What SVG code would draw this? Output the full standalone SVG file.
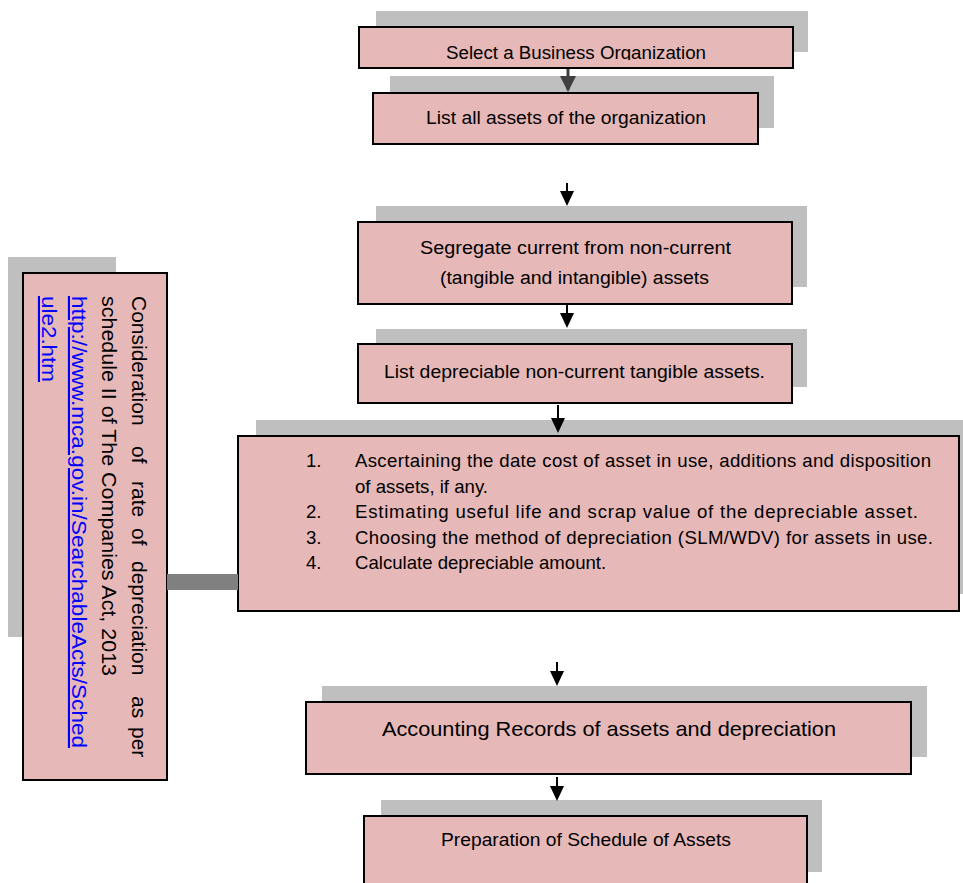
<svg xmlns="http://www.w3.org/2000/svg" width="963" height="883" viewBox="0 0 963 883">
<style>
  .shadow { fill: #bfbfbf; }
  .box { fill: #e6b8b7; stroke: #000; stroke-width: 2; }
  .t { font-family: "Liberation Sans", Arial, sans-serif; fill: #000; }
  .c { text-anchor: middle; }
  .li { font-size: 18.6px; }
  .conn { stroke: #000; stroke-width: 2; fill: none; marker-end: url(#ah); }
  .link { fill: #0000ff; text-decoration: underline; }
</style>
<defs>
  <marker id="ah" markerUnits="userSpaceOnUse" markerWidth="15" markerHeight="14" refX="13" refY="7" orient="auto">
    <path d="M0,0 L15,7 L0,14 z" fill="#000"/>
  </marker>
  <marker id="ahg" markerUnits="userSpaceOnUse" markerWidth="16" markerHeight="16" refX="14" refY="8" orient="auto">
    <path d="M0,0 L16,8 L0,16 z" fill="#404040"/>
  </marker>
  <clipPath id="clip1"><rect x="359" y="27" width="434" height="33"/></clipPath>
</defs>

<g id="consideration">
  <rect class="shadow" x="8" y="257" width="108" height="380"/>
  <rect class="box" x="23" y="273" width="144" height="507"/>
  <text class="t" font-size="21" transform="translate(132,296) rotate(90)">
    <tspan x="0" y="0">Consideration</tspan><tspan x="150" y="0">of</tspan><tspan x="185" y="0">rate</tspan><tspan x="232" y="0">of</tspan><tspan x="265" y="0">depreciation</tspan><tspan x="400" y="0">as</tspan><tspan x="431" y="0">per</tspan>
  </text>
  <text class="t" font-size="21" transform="translate(102,296) rotate(90)" textLength="380" lengthAdjust="spacingAndGlyphs">schedule II of The Companies Act, 2013</text>
  <text class="t link" font-size="21" transform="translate(72,296) rotate(90)" textLength="452" lengthAdjust="spacingAndGlyphs">http://www.mca.gov.in/SearchableActs/Sched</text>
  <text class="t link" font-size="21" transform="translate(42,296) rotate(90)" textLength="86" lengthAdjust="spacingAndGlyphs">ule2.htm</text>
</g>

<g id="select-org">
  <rect class="shadow" x="376" y="11" width="432" height="41"/>
  <rect class="box" x="359" y="27" width="434" height="41"/>
  <g clip-path="url(#clip1)">
    <text class="t c" x="576" y="58.5" font-size="17.5" textLength="260" lengthAdjust="spacingAndGlyphs">Select a Business Organization</text>
  </g>
</g>

<g id="list-assets">
  <rect class="shadow" x="390" y="76" width="384" height="52"/>
  <rect class="box" x="373" y="93" width="385" height="51"/>
  <text class="t c" x="566" y="124" font-size="17.5" textLength="280" lengthAdjust="spacingAndGlyphs">List all assets of the organization</text>
</g>

<g id="segregate">
  <rect class="shadow" x="376" y="206" width="431" height="81"/>
  <rect class="box" x="358" y="222" width="434" height="82"/>
  <text class="t c" x="575.5" y="254" font-size="18" textLength="311" lengthAdjust="spacingAndGlyphs">Segregate current from non-current</text>
  <text class="t c" x="574.5" y="284" font-size="18" textLength="269" lengthAdjust="spacingAndGlyphs">(tangible and intangible) assets</text>
</g>

<g id="list-depreciable">
  <rect class="shadow" x="376" y="329" width="431" height="58"/>
  <rect class="box" x="358" y="344" width="434" height="59"/>
  <text class="t c" x="574.5" y="378" font-size="17.5" textLength="381" lengthAdjust="spacingAndGlyphs">List depreciable non-current tangible assets.</text>
</g>

<g id="steps">
  <rect class="shadow" x="256" y="420" width="710" height="174"/>
  <rect class="box" x="238" y="436" width="721" height="175"/>
  <text class="t li" x="306" y="467">1.</text>
  <text class="t li" x="355" y="467" textLength="576" lengthAdjust="spacing">Ascertaining the date cost of asset in use, additions and disposition</text>
  <text class="t li" x="355" y="493">of assets, if any.</text>
  <text class="t li" x="306" y="518">2.</text>
  <text class="t li" x="355" y="518" textLength="563" lengthAdjust="spacing">Estimating useful life and scrap value of the depreciable asset.</text>
  <text class="t li" x="306" y="544">3.</text>
  <text class="t li" x="355" y="544" textLength="578" lengthAdjust="spacing">Choosing the method of depreciation (SLM/WDV) for assets in use.</text>
  <text class="t li" x="306" y="569">4.</text>
  <text class="t li" x="355" y="569">Calculate depreciable amount.</text>
</g>

<g id="accounting-records">
  <rect class="shadow" x="322" y="686" width="605" height="71"/>
  <rect class="box" x="306" y="702" width="605" height="72"/>
  <text class="t c" x="609" y="736" font-size="21" textLength="454" lengthAdjust="spacingAndGlyphs">Accounting Records of assets and depreciation</text>
</g>

<g id="schedule-assets">
  <rect class="shadow" x="381" y="800" width="441" height="72"/>
  <rect class="box" x="364" y="816" width="443" height="80"/>
  <text class="t c" x="586" y="846" font-size="17.5" textLength="290" lengthAdjust="spacingAndGlyphs">Preparation of Schedule of Assets</text>
</g>

<g id="connectors">
  <rect x="167" y="574" width="71" height="16" fill="#808080"/>
  <line x1="568" y1="69" x2="568" y2="90" stroke="#404040" stroke-width="3" marker-end="url(#ahg)"/>
  <line class="conn" x1="567" y1="183" x2="567" y2="204"/>
  <line class="conn" x1="567" y1="305" x2="567" y2="326"/>
  <line class="conn" x1="558" y1="405" x2="558" y2="431"/>
  <line class="conn" x1="557" y1="662" x2="557" y2="684"/>
  <line class="conn" x1="557" y1="777" x2="557" y2="799"/>
</g>
</svg>
